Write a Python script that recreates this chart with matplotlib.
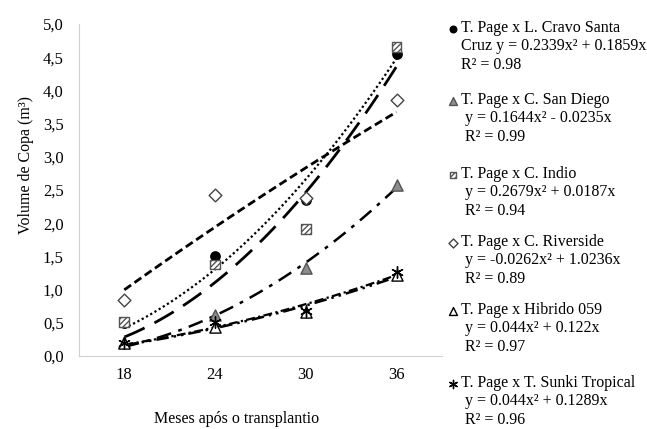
import matplotlib.pyplot as plt
import numpy as np

# valores
meses = ['18', '24', '30', '36']
y_ticks = [0.0, 0.5, 1.0, 1.5, 2.0, 2.5, 3.0, 3.5, 4.0, 4.5, 5.0]
y_labels = ['0,0', '0,5', '1,0', '1,5', '2,0', '2,5', '3,0', '3,5', '4,0', '4,5', '5,0']

cravo = [0.50, 1.50, 2.35, 4.55]
san_diego = [0.21, 0.62, 1.32, 2.57]
indio = [0.51, 1.38, 1.91, 4.65]
riverside = [0.84, 2.42, 2.38, 3.85]
hibrido = [0.20, 0.44, 0.66, 1.22]
sunki = [0.20, 0.51, 0.68, 1.27]

# coeficientes das linhas de tendência (a, b) em y = a x² + b x
coef_cravo = [0.2339, 0.1859]
coef_san_diego = [0.1644, -0.0235]
coef_indio = [0.2679, 0.0187]
coef_riverside = [-0.0262, 1.0236]
coef_hibrido = [0.044, 0.122]
coef_sunki = [0.044, 0.1289]

legendas = [
    'T. Page x L. Cravo Santa\nCruz y = 0.2339x² + 0.1859x\nR² = 0.98',
    'T. Page x C. San Diego\n y = 0.1644x² - 0.0235x\n R² = 0.99',
    'T. Page x C. Indio\n y = 0.2679x² + 0.0187x\n R² = 0.94',
    'T. Page x C. Riverside\n y = -0.0262x² + 1.0236x\n R² = 0.89',
    'T. Page x Hibrido 059\n y = 0.044x² + 0.122x\n R² = 0.97',
    'T. Page x T. Sunki Tropical\n y = 0.044x² + 0.1289x\n R² = 0.96',
]

plt.rcParams['font.family'] = ['Liberation Serif', 'DejaVu Serif']

series = [
    (cravo, coef_cravo, dict(marker='o', s=45, facecolor='black', edgecolor='black'), (0, (1, 1.2)), 1.6),
    (san_diego, coef_san_diego, dict(marker='^', s=65, facecolor='#8c8c8c', edgecolor='#555555'), (0, (6, 3, 1.5, 3)), 1.8),
    (indio, coef_indio, dict(marker='s', s=50, facecolor='white', edgecolor='#555555', hatch='//////'), (0, (8, 4)), 2.0),
    (riverside, coef_riverside, dict(marker='D', s=42, facecolor='white', edgecolor='#444444'), (0, (3, 1.5)), 2.0),
    (hibrido, coef_hibrido, dict(marker='^', s=65, facecolor='white', edgecolor='black'), (0, (5, 2, 1, 2, 1, 2)), 1.8),
    (sunki, coef_sunki, dict(marker=(6, 2, 0), s=70, facecolor='black', edgecolor='black', linewidths=1.0), (0, (4, 1.5, 1, 1.5)), 1.6),
]

fig = plt.figure(figsize=(6.47, 4.29), dpi=100)
ax = fig.add_axes([0.122, 0.170, 0.561, 0.774])

x = np.arange(1, len(meses) + 1)
xs = np.linspace(1, len(meses), 100)
for valores, coef, estilo, ls, lw in series:
    ax.scatter(x, valores, zorder=3, **estilo)
    ax.plot(xs, np.polyval([coef[0], coef[1], 0.0], xs), color='black',
            linestyle=ls, linewidth=lw, zorder=2)

ax.set_xlim(0.5, len(meses) + 0.5)
ax.set_ylim(0, 5.0)
ax.set_xticks(x)
ax.set_xticklabels(meses, fontsize=12)
ax.set_yticks(y_ticks)
ax.set_yticklabels(y_labels, fontsize=12)
ax.tick_params(axis='y', length=0, pad=11)
ax.tick_params(axis='x', length=0, pad=8)
for lado in ['top', 'right']:
    ax.spines[lado].set_visible(False)
ax.spines['left'].set_color('#d0d0d0')
ax.spines['bottom'].set_color('#d0d0d0')
ax.set_xlabel('Meses após o transplantio', fontsize=11.5)
ax.set_ylabel('Volume de Copa (m³)', fontsize=11.5)
ax.xaxis.set_label_coords(0.433, -0.165)
ax.yaxis.set_label_coords(-0.125, 0.575)

# legenda manual à direita
leg = fig.add_axes([0, 0, 1, 1])
leg.set_xlim(0, 647)
leg.set_ylim(429, 0)
leg.axis('off')
topos = [28, 100, 174, 242, 310, 383]
for (valores, coef, estilo, ls, lw), texto, ty in zip(series, legendas, topos):
    est = dict(estilo)
    est['s'] = est['s'] * 0.5
    leg.scatter([453], [ty + 1], **est)
    leg.text(461, ty - 8, texto, fontsize=11.5, va='top', ha='left', linespacing=1.2)

fig.savefig('out.png', dpi=100)
